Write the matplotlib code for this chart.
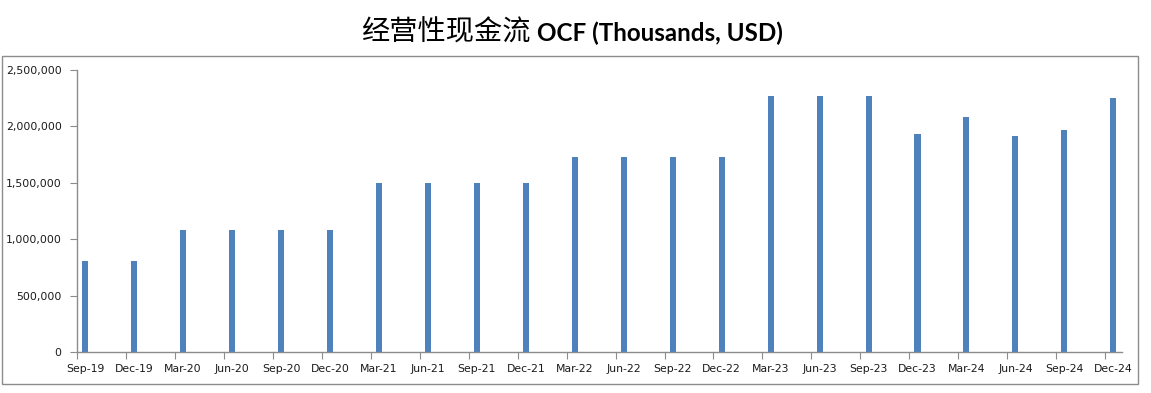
import matplotlib.pyplot as plt
from matplotlib.patches import Rectangle
from matplotlib.ticker import FuncFormatter
import numpy as np

# quarters and operating cash flow (thousands USD)
quarters = ['Sep-19', 'Dec-19', 'Mar-20', 'Jun-20', 'Sep-20', 'Dec-20',
            'Mar-21', 'Jun-21', 'Sep-21', 'Dec-21', 'Mar-22', 'Jun-22',
            'Sep-22', 'Dec-22', 'Mar-23', 'Jun-23', 'Sep-23', 'Dec-23',
            'Mar-24', 'Jun-24', 'Sep-24', 'Dec-24']
ocf = [805000, 805000, 1080000, 1080000, 1080000, 1080000,
       1500000, 1500000, 1500000, 1500000, 1730000, 1730000,
       1730000, 1730000, 2270000, 2270000, 2270000, 1933000,
       2083000, 1915000, 1968000, 2252000]
y_ticks = [0, 500000, 1000000, 1500000, 2000000, 2500000]

W, H = 1151, 393
fig = plt.figure(figsize=(W / 100, H / 100), dpi=100)
fig.patch.set_facecolor('white')

# outer gray frame (Excel plot area)
fig.patches.append(Rectangle((2 / W, 1 - 384 / H), (1137.5 - 2) / W, (384 - 56) / H,
                             transform=fig.transFigure, fill=False,
                             edgecolor='#8c8c8c', linewidth=1.0))

ax = fig.add_axes([77 / W, 1 - 352 / H, (1121.5 - 77) / W, (352 - 70) / H])

# Excel date axis: one slot per month, bars in the middle of their month
months = np.arange(len(quarters)) * 3
ax.bar(months + 0.5, ocf, width=0.37, color='#4f81bd', zorder=2)

ax.set_xlim(0, len(quarters) * 3 - 2)
ax.set_ylim(0, 2500000)
ax.set_yticks(y_ticks)
ax.yaxis.set_major_formatter(FuncFormatter(lambda v, p: f'{int(v):,}'))

ax.set_xticks(months)
ax.set_xticklabels([])
ax.set_xticks(months + 0.5, minor=True)
ax.set_xticklabels(quarters, minor=True)
ax.tick_params(axis='x', which='major', length=5, color='#8c8c8c', direction='out')
ax.tick_params(axis='x', which='minor', length=0, pad=9, labelsize=7.8, labelcolor='#1a1a1a')
ax.tick_params(axis='y', length=5, color='#8c8c8c', pad=6, labelsize=7.8, labelcolor='#1a1a1a')

for s in ['top', 'right']:
    ax.spines[s].set_visible(False)
for s in ['left', 'bottom']:
    ax.spines[s].set_color('#8c8c8c')
    ax.spines[s].set_linewidth(1.0)

# title: Chinese part + bold latin part
fig.text(531 / W, 1 - 41 / H, '经营性现金流', family=['Noto Sans CJK SC', 'DejaVu Sans'],
         fontsize=20.3, ha='right', va='baseline', color='black')
fig.text(537 / W, 1 - 41 / H, 'OCF (Thousands, USD)', family=['Lato', 'DejaVu Sans'],
         fontweight='bold', fontsize=17.4, ha='left', va='baseline', color='black')

fig.savefig('out.png', dpi=100)
